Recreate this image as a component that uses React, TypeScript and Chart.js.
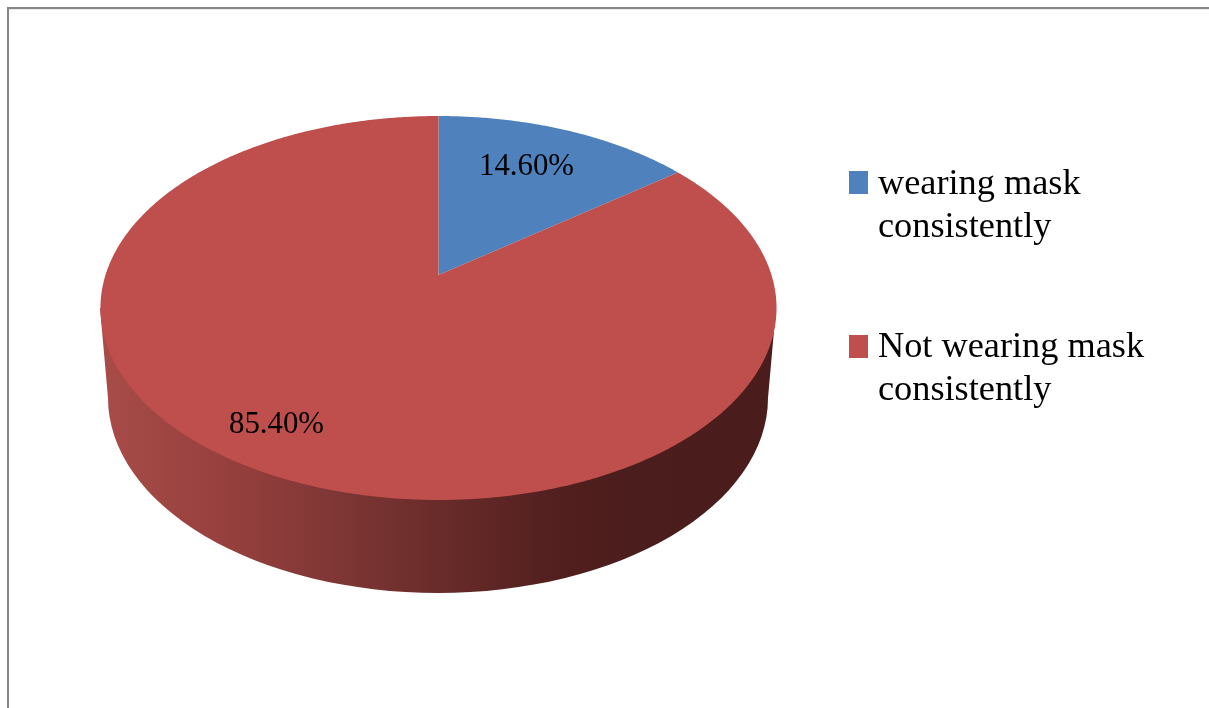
import React, { useEffect, useRef } from "react";
import { Chart, registerables } from "chart.js";

Chart.register(...registerables);

const categories = [
  ["wearing mask", "consistently"],
  ["Not wearing mask", "consistently"],
];
const shares = [14.6, 85.4];
const sliceColors = ["#4F81BD", "#BE4F4C"];
const valueLabelSpots = [
  { x: 479, y: 175 },
  { x: 229, y: 433 },
];

const WIDTH = 1209;
const HEIGHT = 708;
const SERIF = '"Liberation Serif", serif';

// Tilted-disc projection: unit-disc coordinates go to page pixels through a
// perspective divide, so the hub sits above the centre of the visible ellipse.
const DISC = { cx: 438.5, hubY: 275, a: 333, b: 186.3, persp: 0.1719 };
const project = (angle: number, rho: number) => {
  const u = Math.cos(angle) * rho;
  const v = Math.sin(angle) * rho;
  const w = 1 - DISC.persp * v;
  return { x: DISC.cx + (DISC.a * u) / w, y: DISC.hubY + (DISC.b * v) / w };
};

// Lower rim of the pie's side wall.
const WALL = { cx: 438, cy: 398, rx: 330, ry: 195, topY: 308, topRx: 338 };
const wallShades: [number, string][] = [
  [0, "#A84C48"],
  [0.2, "#953F3D"],
  [0.36, "#7D3634"],
  [0.5, "#692C2A"],
  [0.68, "#511F1E"],
  [0.78, "#4B1D1C"],
  [1, "#4A1C1B"],
];

const pieProjection = {
  id: "pieProjection",
  beforeDraw(chart: Chart) {
    const { ctx } = chart;
    ctx.save();
    ctx.fillStyle = "#FFFFFF";
    ctx.fillRect(0, 0, WIDTH, HEIGHT);
    // Page border, open on the right and at the bottom.
    ctx.fillStyle = "#868686";
    ctx.fillRect(7, 7, WIDTH - 7, 2);
    ctx.fillRect(7, 7, 2, HEIGHT - 7);
    ctx.fillStyle = "#E8E8E8";
    ctx.fillRect(9, 9, WIDTH - 9, 1);
    ctx.restore();
  },
  beforeDatasetDraw(chart: Chart) {
    const { ctx } = chart;
    const arcs = chart.getDatasetMeta(0).data as any[];
    ctx.save();

    // Side wall: only slices reaching the near half of the disc show one.
    arcs.forEach((arc) => {
      const from = Math.max(arc.startAngle, 0);
      const to = Math.min(arc.endAngle, Math.PI);
      if (to <= from) return;
      const left = WALL.cx - WALL.topRx;
      const gradient = ctx.createLinearGradient(left, 0, WALL.cx + WALL.topRx, 0);
      wallShades.forEach(([stop, color]) => gradient.addColorStop(stop, color));
      ctx.beginPath();
      ctx.moveTo(WALL.cx + WALL.topRx * Math.cos(from), WALL.topY + 192 * Math.sin(from));
      ctx.ellipse(WALL.cx, WALL.cy, WALL.rx, WALL.ry, 0, from, to);
      ctx.lineTo(WALL.cx + WALL.topRx * Math.cos(to), WALL.topY + 192 * Math.sin(to));
      ctx.closePath();
      ctx.fillStyle = gradient;
      ctx.fill();
    });

    arcs.forEach((arc, i) => {
      const steps = Math.ceil(((arc.endAngle - arc.startAngle) / (Math.PI * 2)) * 720);
      ctx.beginPath();
      const hub = project(0, 0);
      ctx.moveTo(hub.x, hub.y);
      for (let s = 0; s <= steps; s++) {
        const p = project(arc.startAngle + ((arc.endAngle - arc.startAngle) * s) / steps, 1);
        ctx.lineTo(p.x, p.y);
      }
      ctx.closePath();
      ctx.fillStyle = sliceColors[i];
      ctx.fill();
    });
    ctx.restore();
    return false;
  },
  afterDatasetsDraw(chart: Chart) {
    const { ctx } = chart;
    ctx.save();
    ctx.fillStyle = "#000000";
    ctx.textAlign = "left";
    ctx.textBaseline = "alphabetic";

    // Value labels.
    ctx.font = `30.8px ${SERIF}`;
    shares.forEach((share, i) => {
      ctx.fillText(`${share.toFixed(2)}%`, valueLabelSpots[i].x, valueLabelSpots[i].y);
    });

    // Legend.
    const legendRows = [193.5, 356.5];
    const swatchTops = [171, 335];
    ctx.font = `36.3px ${SERIF}`;
    categories.forEach((lines, i) => {
      ctx.fillStyle = sliceColors[i];
      ctx.fillRect(849, swatchTops[i], 19, 23);
      ctx.fillStyle = "#000000";
      lines.forEach((line, n) => ctx.fillText(line, 878, legendRows[i] + n * 43));
    });
    ctx.restore();
  },
};

export default function App() {
  const canvasRef = useRef<HTMLCanvasElement>(null);

  useEffect(() => {
    const chart = new Chart(canvasRef.current!, {
      type: "pie",
      data: {
        labels: categories,
        datasets: [{ data: shares, backgroundColor: sliceColors, borderWidth: 0 }],
      },
      options: {
        responsive: false,
        animation: false,
        plugins: { legend: { display: false }, tooltip: { enabled: false } },
      },
      plugins: [pieProjection],
    });
    return () => chart.destroy();
  }, []);

  return (
    <div style={{ position: "absolute", left: 0, top: 0, width: WIDTH, height: HEIGHT }}>
      <canvas ref={canvasRef} width={WIDTH} height={HEIGHT} style={{ display: "block" }} />
    </div>
  );
}
